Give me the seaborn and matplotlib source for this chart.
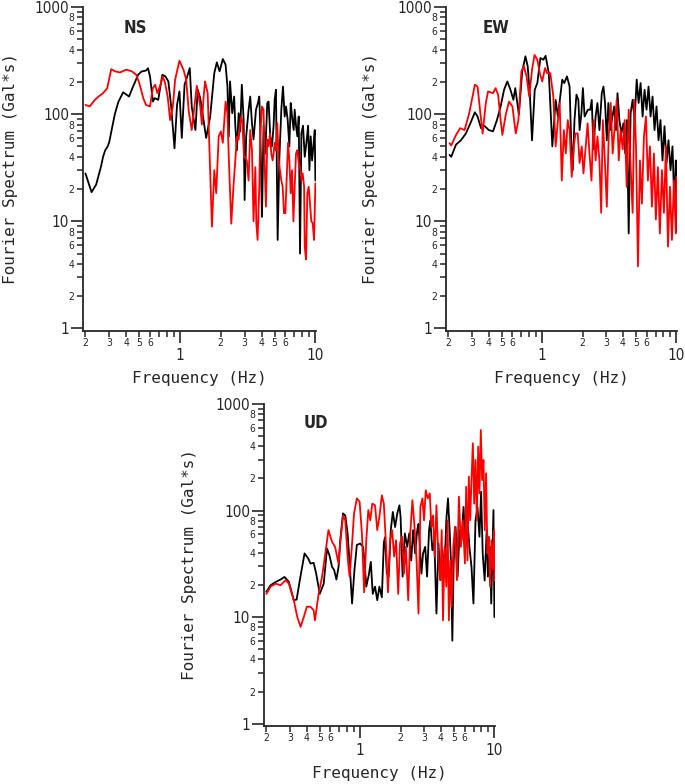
import numpy as np
import matplotlib
matplotlib.use("Agg")
import matplotlib.pyplot as plt
import seaborn as sns
from matplotlib.ticker import FixedLocator, FuncFormatter

# ---- NS component ----
ns_black_f = [0.20, 0.222, 0.24, 0.26, 0.27, 0.28, 0.292, 0.30, 0.315, 0.33, 0.35, 0.38, 0.42, 0.45,
              0.49, 0.52, 0.56, 0.58, 0.60, 0.62, 0.63, 0.65, 0.69, 0.74, 0.78, 0.82, 0.86, 0.91,
              0.95, 0.99, 1.03, 1.08, 1.13, 1.18, 1.22, 1.26, 1.30, 1.35, 1.41, 1.56, 1.67, 1.79,
              1.87, 1.96, 2.07, 2.17, 2.24, 2.29, 2.34, 2.43, 2.51,
              2.56, 2.63, 2.71, 2.78, 2.86, 2.95, 3.0, 3.08, 3.21, 3.30, 3.40, 3.49, 3.64, 3.76,
              3.85, 3.91, 4.03, 4.14, 4.26, 4.41, 4.51, 4.64, 4.78, 4.91, 5.0, 5.11, 5.26, 5.41,
              5.60, 5.76, 5.93, 6.07, 6.24, 6.42, 6.57, 6.72, 6.91, 7.03, 7.19, 7.36, 7.53, 7.70,
              7.88, 8.10, 8.34, 8.58, 8.83, 9.03, 9.23, 9.45, 9.66, 9.89, 10.0]
ns_black_amp = [28, 18.7, 22, 32, 40, 46, 50, 55, 75, 100, 130, 160, 146, 181,
                233, 250, 255, 268, 225, 157, 131, 141, 136, 233, 225, 202, 118, 48,
                122, 163, 60, 188, 225, 269, 118, 90, 71, 170, 141, 60, 95, 241,
                304, 251, 327, 289, 181, 62, 202, 102, 146,
                78, 46, 102, 69, 188, 88, 15.8, 62, 110, 146, 82, 58, 110, 127,
                146, 78, 11, 78, 43, 127, 131, 62, 50, 78, 136, 169, 6.7, 37,
                110, 181, 95, 118, 88, 50, 127, 95, 71, 110, 78, 62, 95, 5.0,
                66, 78, 40, 54, 78, 30, 62, 37, 50, 71, 24]

ns_red_f = [0.20, 0.215, 0.235, 0.25, 0.27, 0.29, 0.31, 0.33, 0.36, 0.40, 0.44, 0.475, 0.50, 0.535,
            0.56, 0.60, 0.63, 0.655, 0.68, 0.71, 0.745, 0.775, 0.81, 0.845, 0.885, 0.92, 0.99,
            1.06, 1.11, 1.16, 1.22, 1.33, 1.41, 1.45, 1.49, 1.53, 1.60, 1.72, 1.79, 1.85, 1.93,
            2.0, 2.07, 2.17, 2.24, 2.29, 2.39, 2.48,
            2.56, 2.63, 2.71, 2.78, 2.83, 2.89, 2.97, 3.02, 3.11, 3.21, 3.30, 3.40, 3.49, 3.60,
            3.66, 3.74, 3.85, 3.91, 4.03, 4.14, 4.21, 4.31, 4.41, 4.51, 4.62, 4.72, 4.83, 4.91,
            5.0, 5.11, 5.23, 5.35, 5.47, 5.60, 5.73, 5.86, 6.0, 6.14, 6.28, 6.42, 6.57, 6.72,
            6.88, 7.03, 7.19, 7.36, 7.53, 7.70, 7.88, 8.06, 8.25, 8.34, 8.53, 8.72, 8.92, 9.12,
            9.33, 9.55, 9.77, 10.0]
ns_red_amp = [122, 118, 136, 146, 157, 175, 263, 251, 245, 260, 251, 233, 195, 141,
              122, 118, 175, 188, 157, 181, 225, 195, 146, 88, 118, 210, 315,
              260, 210, 106, 71, 184, 118, 80, 140, 202, 157, 8.9, 30, 18.3, 62,
              69, 54, 131, 102, 40, 9.5, 21,
              37, 62, 58, 82, 95, 82, 40, 40, 37, 24, 71, 46, 10, 32,
              9.6, 6.7, 21, 62, 118, 110, 37, 13.7, 58, 50, 66, 43, 37, 43,
              54, 46, 82, 37, 30, 24, 21, 11.9, 11.9, 26, 54, 37, 18.3, 30,
              10, 21, 43, 46, 35, 32, 24, 28, 21, 5.8, 4.4, 18.3, 21, 14.7,
              10, 9.6, 6.7, 22.6]

# ---- EW component ----
ew_black_f = [0.204, 0.21, 0.228, 0.248, 0.27, 0.295, 0.315, 0.33, 0.35, 0.37, 0.40, 0.43, 0.46, 0.49,
              0.52, 0.55, 0.58, 0.61, 0.63, 0.67, 0.71, 0.75, 0.78, 0.81, 0.84, 0.88, 0.92, 0.97,
              1.02, 1.06, 1.12, 1.19, 1.26, 1.31, 1.41, 1.46, 1.53, 1.60, 1.64, 1.69, 1.74, 1.80,
              1.86, 1.90, 1.96, 2.01, 2.07, 2.19, 2.28, 2.34, 2.41, 2.50, 2.58, 2.67, 2.78, 2.86,
              2.94, 3.03, 3.11, 3.21, 3.44, 3.55, 3.64, 3.76, 3.89, 4.03, 4.16, 4.28, 4.41, 4.56,
              4.72, 4.88, 5.06, 5.23, 5.41, 5.60, 5.79, 5.99, 6.2, 6.42, 6.64, 6.87, 7.11, 7.36,
              7.61, 7.88, 8.15, 8.44, 8.73, 9.04, 9.35, 9.67, 9.9, 10.0]
ew_black_amp = [41.7, 40, 52, 57, 66, 85, 104, 95, 74, 78, 71, 69, 88, 118,
                169, 202, 169, 136, 175, 99, 251, 346, 279, 150, 57, 169, 195, 334,
                322, 350, 241, 50, 136, 95, 210, 195, 225, 181, 62, 30, 88, 152,
                136, 71, 102, 175, 95, 110, 110, 136, 47, 95, 127, 71, 157, 181,
                127, 57, 127, 71, 118, 71, 157, 88, 66, 82, 43, 88, 7.7, 102,
                136, 88, 210, 127, 195, 95, 169, 110, 181, 95, 146, 71, 118, 57,
                88, 37, 77, 35, 57, 30, 50, 13.7, 37, 8]

ew_red_f = [0.204, 0.21, 0.228, 0.245, 0.264, 0.286, 0.315, 0.33, 0.345, 0.36, 0.38, 0.395, 0.43, 0.45,
            0.47, 0.49, 0.505, 0.535, 0.566, 0.60, 0.635, 0.665, 0.70, 0.73, 0.765, 0.80, 0.84,
            0.877, 0.92, 0.96, 1.0, 1.05, 1.09, 1.15, 1.21, 1.26, 1.31, 1.35, 1.40, 1.45, 1.50,
            1.55, 1.60, 1.66, 1.72, 1.77, 1.84, 1.90, 1.97, 2.03, 2.11, 2.18, 2.25, 2.33, 2.41,
            2.50, 2.58, 2.67, 2.75, 2.83, 2.93, 3.03, 3.13, 3.24, 3.35, 3.47, 3.59, 3.72, 3.84,
            3.98, 4.12, 4.26, 4.41, 4.56, 4.72, 4.86, 5.0, 5.17, 5.35, 5.53, 5.73, 5.93, 6.13,
            6.35, 6.57, 6.80, 7.03, 7.28, 7.53, 7.80, 8.07, 8.35, 8.65, 8.95, 9.26, 9.58, 9.9, 10.0]
ew_red_amp = [53.6, 51, 64, 74, 71, 102, 188, 180, 106, 66, 127, 163, 157, 175,
              150, 88, 64, 99, 131, 118, 66, 88, 251, 279, 225, 146, 260,
              357, 322, 241, 202, 269, 241, 241, 146, 50, 88, 127, 24, 71, 43,
              88, 71, 26, 50, 66, 66, 35, 50, 28, 50, 82, 43, 24, 88,
              37, 62, 37, 12, 88, 37, 13.7, 62, 127, 43, 77, 136, 37, 71,
              47, 88, 21, 110, 32, 12, 136, 50, 3.8, 37, 14.6, 62, 95, 24,
              50, 13.7, 43, 10.4, 32, 7.7, 30, 12, 50, 5.8, 21, 6.7, 24, 7.7, 26]

# ---- UD component ----
ud_black_f = [0.20, 0.215, 0.235, 0.255, 0.273, 0.294, 0.32, 0.336, 0.355, 0.385, 0.41, 0.426, 0.45, 0.47,
              0.50, 0.535, 0.566, 0.59, 0.617, 0.64, 0.665, 0.69, 0.71, 0.745, 0.774, 0.806, 0.84,
              0.87, 0.906, 0.944, 1.0, 1.05, 1.08, 1.11, 1.16, 1.20, 1.24, 1.29, 1.34, 1.39, 1.45,
              1.50, 1.53, 1.58, 1.63, 1.69, 1.75, 1.82, 1.89, 1.96, 2.0, 2.07, 2.15, 2.24, 2.32,
              2.40, 2.48, 2.57, 2.66, 2.72, 2.86, 2.94, 3.05, 3.15, 3.26, 3.33, 3.45, 3.57, 3.70,
              3.83, 3.96, 4.1, 4.24, 4.38, 4.51, 4.64, 4.75, 4.86, 4.97, 5.14, 5.32, 5.5, 5.69,
              5.89, 6.09, 6.30, 6.52, 6.75, 6.98, 7.23, 7.48, 7.74, 7.96, 8.18, 8.46, 8.76, 8.95,
              9.29, 9.47, 9.84, 10.0]
ud_black_amp = [17.3, 19.9, 21.4, 22.5, 23.8, 21.4, 14.4, 14.6, 22.2, 39.6, 35.5, 31.8, 32.3, 25.6,
                16.5, 20.6, 44, 38, 29.6, 27.6, 22.5, 29.6, 52.6, 94, 90, 61, 27.6,
                13.4, 27.6, 47.5, 49, 45.6, 31.8, 19.3, 25, 33, 16.5, 19.3, 14.4, 19.3, 15.3,
                50, 56, 25.6, 24, 65.5, 97, 70, 94, 112, 87, 24, 61, 45.6, 61,
                34, 65.5, 39.6, 65.5, 75, 25.6, 39.6, 45.6, 24, 65.5, 81, 42.4, 52.6, 10.8,
                49, 22.2, 42.4, 24, 81, 130, 65.5, 31.8, 6.0, 31.8, 70, 24, 65.5, 52.6,
                108, 45.6, 81, 45, 29.6, 13.4, 81, 108, 56.8, 150, 39.6, 22, 65.5, 24,
                45.6, 13.4, 101, 10]

ud_red_f = [0.20, 0.215, 0.235, 0.255, 0.278, 0.294, 0.32, 0.34, 0.36, 0.38, 0.40, 0.426, 0.45, 0.46,
            0.49, 0.52, 0.55, 0.58, 0.617, 0.65, 0.69, 0.71, 0.745, 0.774, 0.81, 0.834, 0.87,
            0.90, 0.944, 0.99, 1.03, 1.07, 1.11, 1.15, 1.19, 1.23, 1.29, 1.34, 1.39, 1.45, 1.50,
            1.56, 1.61, 1.67, 1.73, 1.79, 1.85, 1.92, 1.98, 2.05, 2.12, 2.19, 2.28, 2.36, 2.45,
            2.54, 2.63, 2.72, 2.81, 2.91, 2.99, 3.08, 3.19, 3.30, 3.39, 3.49, 3.59, 3.70, 3.83,
            3.96, 4.05, 4.14, 4.26, 4.38, 4.48, 4.58, 4.69, 4.80, 4.94, 5.08, 5.26, 5.44, 5.63,
            5.82, 6.03, 6.16, 6.30, 6.45, 6.60, 6.75, 6.91, 7.07, 7.23, 7.40, 7.57, 7.74, 7.92,
            8.10, 8.29, 8.48, 8.67, 8.87, 9.07, 9.29, 9.50, 9.72, 9.95, 10.0]
ud_red_amp = [16.5, 19.3, 20.6, 19.9, 22.2, 20.6, 14.4, 10, 8.1, 10, 12.5, 12.5, 11.6, 9.3,
              16.5, 24, 39.6, 65.5, 50.8, 45.6, 31.8, 49, 90, 81, 34, 24, 49,
              94, 130, 121, 61, 17.1, 52.6, 101, 81, 116, 112, 65.5, 87, 139, 116,
              45.6, 17.1, 52.6, 65.5, 37, 52.6, 16.5, 49, 56.8, 25.6, 45.6, 14.4, 61, 125,
              70, 34, 10.8, 108, 130, 81, 155, 130, 145, 70, 90, 37, 112, 34,
              22.2, 65.5, 9.3, 45.6, 19.3, 81, 9.3, 34, 12.5, 45, 70, 22.2, 135, 45.6,
              81, 31.8, 167, 34, 208, 81, 193, 428, 116, 298, 81, 397, 145, 570,
              193, 298, 65.5, 224, 39.6, 56.8, 19.3, 52.6, 28, 65.5, 22]

panels = [
    ("NS", ns_black_f, ns_black_amp, ns_red_f, ns_red_amp),
    ("EW", ew_black_f, ew_black_amp, ew_red_f, ew_red_amp),
    ("UD", ud_black_f, ud_black_amp, ud_red_f, ud_red_amp),
]

sns.set_style("ticks")
mono = ['DejaVu Sans Mono', 'DejaVu Sans']
plt.rcParams['font.family'] = ['DejaVu Sans']
plt.rcParams['font.stretch'] = 'condensed'
plt.rcParams['axes.linewidth'] = 1.3

fig = plt.figure(figsize=(6.85, 7.84), dpi=100)
boxes = [[0.1212, 0.5780, 0.3401, 0.4131],
         [0.6511, 0.5780, 0.3372, 0.4131],
         [0.3854, 0.0740, 0.3372, 0.4107]]
ylab_x = [-0.313, -0.329, -0.322]
title_x = [0.223, 0.216, 0.225]
title_y = [0.935, 0.935, 0.941]

x_minor = [0.2, 0.3, 0.4, 0.5, 0.6, 0.7, 0.8, 0.9, 2, 3, 4, 5, 6, 7, 8, 9]
y_minor = [d * 10.0 ** e for e in range(0, 3) for d in range(2, 10)]


def lead_digit(v):
    return int(round(v / 10 ** np.floor(np.log10(v) + 1e-9)))


def x_minor_fmt(v, pos):
    d = lead_digit(v)
    return str(d) if d <= 6 else ""


def y_minor_fmt(v, pos):
    d = lead_digit(v)
    return str(d) if d in (2, 4, 6, 8) else ""


for i, (name, bf, ba, rf, ra) in enumerate(panels):
    ax = fig.add_axes(boxes[i])
    sns.lineplot(x=bf, y=ba, color="black", lw=1.3, ax=ax, estimator=None, sort=False)
    sns.lineplot(x=rf, y=ra, color="red", lw=1.3, ax=ax, estimator=None, sort=False)
    ax.set_xscale("log")
    ax.set_yscale("log")
    ax.set_xlim(0.192, 10.1)
    ax.set_ylim(0.95, 1000)
    sns.despine(ax=ax)

    ax.xaxis.set_major_locator(FixedLocator([1, 10]))
    ax.xaxis.set_minor_locator(FixedLocator(x_minor))
    ax.xaxis.set_major_formatter(FuncFormatter(lambda v, p: "%d" % round(v)))
    ax.xaxis.set_minor_formatter(FuncFormatter(x_minor_fmt))
    ax.yaxis.set_major_locator(FixedLocator([1, 10, 100, 1000]))
    ax.yaxis.set_minor_locator(FixedLocator(y_minor))
    ax.yaxis.set_major_formatter(FuncFormatter(lambda v, p: "%d" % round(v)))
    ax.yaxis.set_minor_formatter(FuncFormatter(y_minor_fmt))

    ax.tick_params(which="major", direction="out", length=8.5, width=1.2, labelsize=11)
    ax.tick_params(which="minor", direction="out", length=4.3, width=1.1, labelsize=7.5)
    ax.tick_params(axis="y", which="major", pad=1.5)
    ax.tick_params(axis="y", which="minor", pad=2)
    ax.tick_params(axis="x", which="major", pad=4)
    ax.tick_params(axis="x", which="minor", pad=1)

    ax.set_xlabel("Frequency (Hz)", fontsize=11.5, va="center", family=mono, stretch="normal")
    ax.xaxis.set_label_coords(0.5, -0.148)
    ax.set_ylabel("Fourier Spectrum (Gal*s)", fontsize=11.5, va="center", family=mono,
                  stretch="normal")
    ax.yaxis.set_label_coords(ylab_x[i], 0.5)
    ax.text(title_x[i], title_y[i], name, transform=ax.transAxes, ha="center", va="center",
            fontsize=12, fontweight="bold")

fig.savefig("out.png", dpi=100)
